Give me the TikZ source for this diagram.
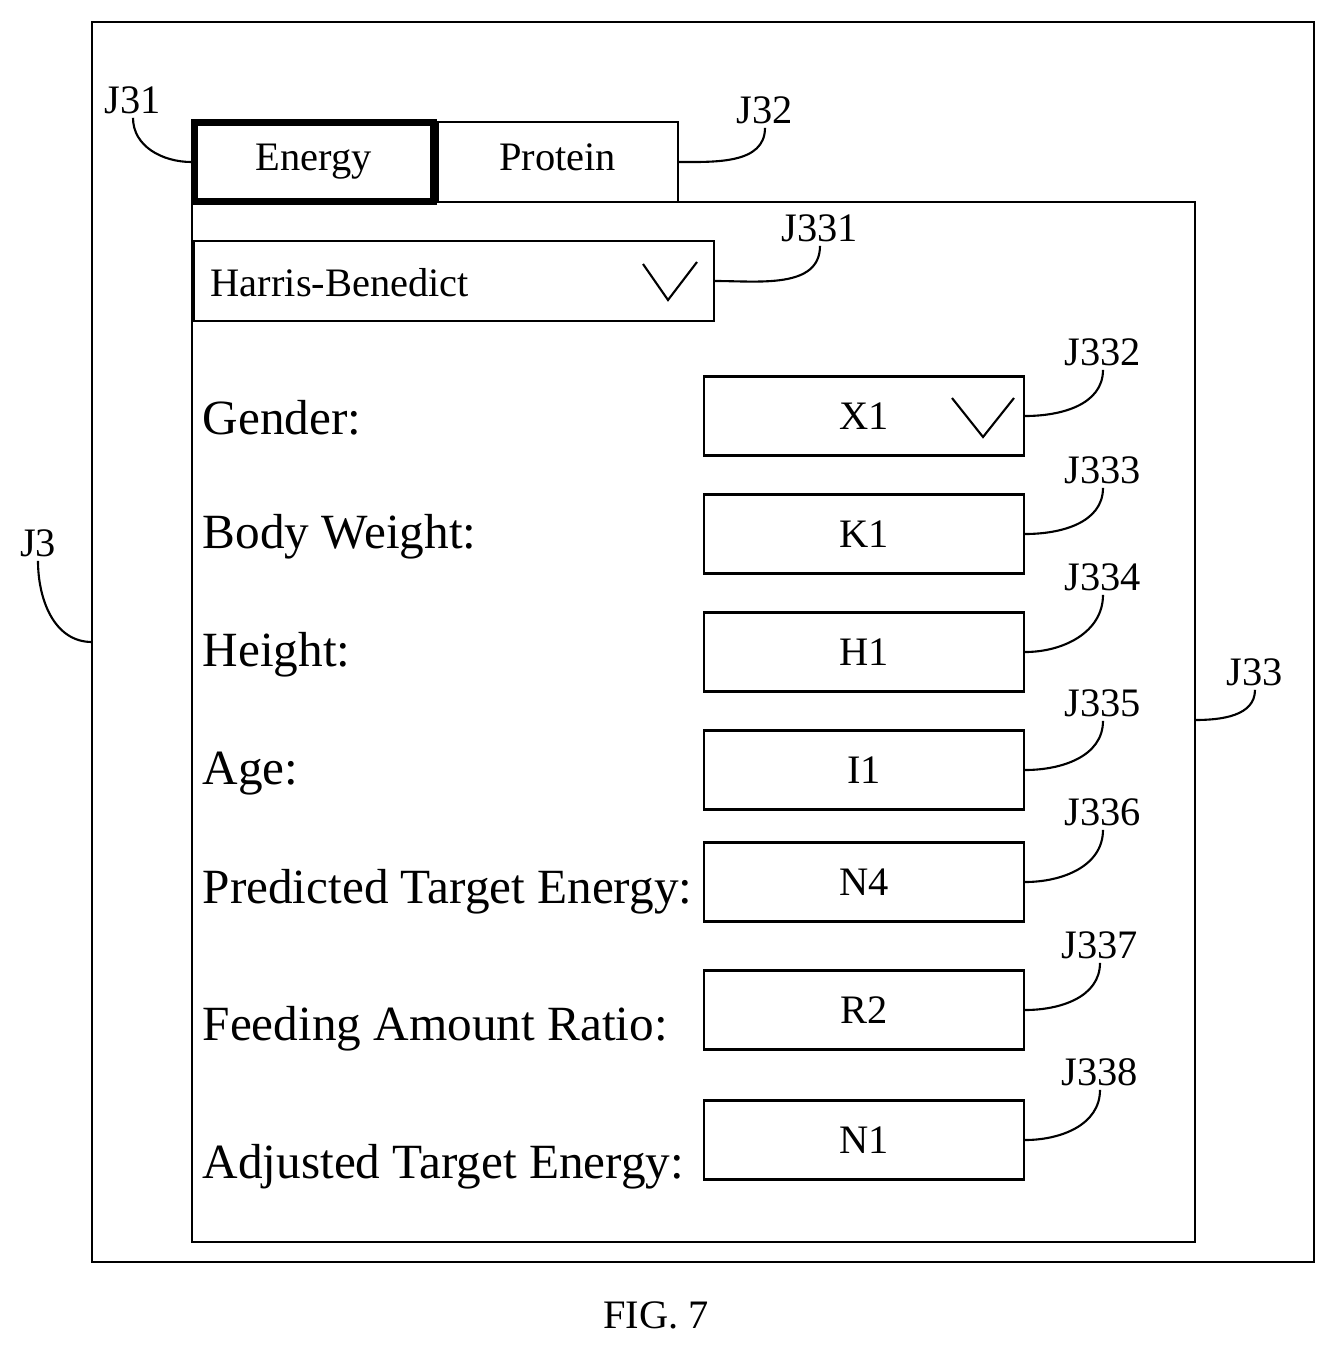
\documentclass[tikz,border=0pt]{standalone}
\usepackage{fontspec}
\setmainfont{Liberation Serif}
\usetikzlibrary{positioning}
\tikzset{%
	frame/.style={draw, line width=0.6pt},
	tab/.style={draw, line width=0.6pt, minimum width=2.4cm, minimum height=0.8cm, text height=1.6ex, text depth=0.5ex, font=\fontsize{11.5}{13}\selectfont},
	field/.style={draw, line width=0.6pt, minimum width=3.2cm, minimum height=0.79cm, font=\fontsize{11.5}{13}\selectfont},
	lbl/.style={anchor=west, inner sep=0pt, font=\fontsize{14}{16}\selectfont},
	tag/.style={inner sep=1pt, font=\fontsize{11.5}{13}\selectfont},
	leader/.style={line width=0.6pt}
}
\begin{document}
\begin{tikzpicture}[x=0.01cm, y=-0.01cm]
			\useasboundingbox (0,0) rectangle (1337,1351);
			\draw[frame] (92,22) rectangle (1314,1262);
			\draw[frame] (192,202) rectangle (1195,1242);
			\coordinate (j3-in) at (92,642);
			\coordinate (j33-in) at (1195,720);
			\node[tab, line width=2pt, minimum width=2.38cm, minimum height=0.78cm] (energy) at (314,162) {Energy};
			\node[tab] (protein) [right=0pt of energy] {Protein};
			\node[draw, line width=0.6pt, minimum width=5.2cm, minimum height=0.8cm] (method) at (454,281) {};
			\node[lbl, font=\fontsize{11.5}{13}\selectfont] (method-txt) at (210,283) {Harris-Benedict};
			\draw[leader] (643,264) -- (668,300) -- (697,262);
			% fields
			\node[field] (x1) at (864,416) {X1};
			\draw[leader] (952,398) -- (983,437) -- (1014,398);
			\node[field] (k1) at (864,534) {K1};
			\node[field] (h1) at (864,652) {H1};
			\node[field] (i1) at (864,770) {I1};
			\node[field] (n4) at (864,882) {N4};
			\node[field] (r2) at (864,1010) {R2};
			\node[field] (n1) at (864,1140) {N1};
			\node[lbl] (gender) at (202,418) {Gender:};
			\node[lbl] (weight) at (202,537) {Body Weight:};
			\node[lbl] (height) at (202,655) {Height:};
			\node[lbl] (age) at (202,774) {Age:};
			\node[lbl] (pred) at (202,892) {Predicted Target Energy:};
			\node[lbl] (feed) at (202,1029) {Feeding Amount Ratio:};
			\node[lbl] (adj) at (202,1167) {Adjusted Target Energy:};
			% reference tags
			\node[tag] (t-j3) at (38,543) {J3};
			\node[tag] (t-j31) at (133,100) {J31};
			\node[tag] (t-j32) at (765,110) {J32};
			\node[tag] (t-j33) at (1255,672) {J33};
			\node[tag] (t-j331) at (820,228) {J331};
			\node[tag] (t-j332) at (1103,352) {J332};
			\node[tag] (t-j333) at (1103,470) {J333};
			\node[tag] (t-j334) at (1103,577) {J334};
			\node[tag] (t-j335) at (1103,703) {J335};
			\node[tag] (t-j336) at (1103,812) {J336};
			\node[tag] (t-j337) at (1100,945) {J337};
			\node[tag] (t-j338) at (1100,1072) {J338};
			\draw[leader] (j3-in) to[out=180, in=-90] (t-j3.south);
			\draw[leader] (energy.west) to[out=180, in=-90] (t-j31.south);
			\draw[leader] (protein.east) to[out=0, in=-90] (t-j32.south);
			\draw[leader] (j33-in) to[out=0, in=-90] (t-j33.south);
			\draw[leader] (method.east) to[out=0, in=-90] (t-j331.south);
			\foreach \f/\t in {x1/j332, k1/j333, h1/j334, i1/j335, n4/j336, r2/j337, n1/j338}
				\draw[leader] (\f.east) to[out=0, in=-90] (t-\t.south);
			\node[tag] (fig) at (656,1315) {FIG. 7};
		\end{tikzpicture}
\end{document}
